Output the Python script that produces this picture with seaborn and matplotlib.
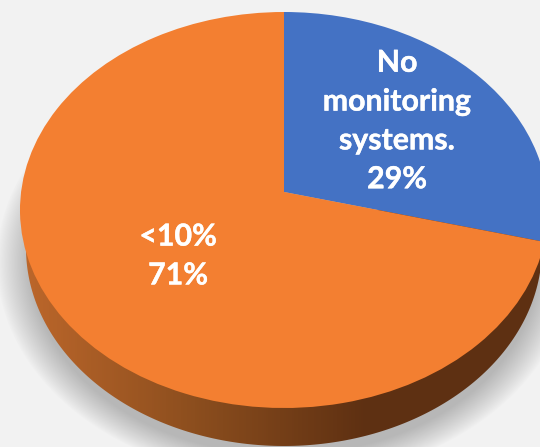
import matplotlib.patheffects as pe
import matplotlib.pyplot as plt
import numpy as np
import seaborn as sns
from matplotlib.colors import LinearSegmentedColormap
from matplotlib.patches import PathPatch
from matplotlib.path import Path
from matplotlib.transforms import Transform

shares = [29, 71]
labels = ["No\nmonitoring\nsystems.\n29%", "<10%\n71%"]
colors = ["#4472C4", "#F37F31"]

CX, CY, RX, RY = 284, 210, 264, 198
TILT = 0.091  # pie centre sits above the middle of the ellipse
DEPTH = 38
BOTTOM_RX = 258  # far rim looks a little narrower


class TiltedDisc(Transform):
    # projective view of the unit pie, so the centre moves but the rim stays an ellipse
    input_dims = 2
    output_dims = 2
    is_separable = False
    has_inverse = False

    def transform_non_affine(self, values):
        x, y = np.asarray(values, dtype=float).T
        w = 1 + TILT * y
        x2 = x * np.sqrt(1 - TILT**2) / w
        y2 = (y + TILT) / w
        return np.column_stack([CX + RX * x2, CY - RY * y2])


sns.set_theme(style="white", palette=sns.color_palette(colors))
fig = plt.figure(figsize=(5.4, 4.47), dpi=100, facecolor="#F2F2F2")
ax = fig.add_axes([0, 0, 1, 1])

# Soft shadow under the pie
xx, yy = np.meshgrid(np.arange(540), np.arange(447))
r = np.sqrt(((xx - 284) / 288) ** 2 + ((yy - 262) / 218) ** 2)
shadow = np.zeros((447, 540, 4))
shadow[..., :3] = 0.72
shadow[..., 3] = np.clip((1 - r) / 0.12, 0, 1) ** 0.9
ax.imshow(shadow, extent=(0, 540, 447, 0), zorder=1, aspect="auto")

# Side of the pie, light on the left and dark from the middle on
side_cmap = LinearSegmentedColormap.from_list(
    "side", ["#BD672B", "#8C4E1E", "#5E3012", "#5E3012"]
)
ramp = np.clip((np.arange(540) - 20) / 530, 0, 1)[None, :]
side_img = ax.imshow(ramp, cmap=side_cmap, extent=(0, 540, 447, 0), zorder=2, aspect="auto")
t = np.linspace(np.pi, 0, 200)
lower = np.column_stack([CX + BOTTOM_RX * np.cos(t), CY + DEPTH + RY * np.sin(t)])
rim = np.vstack([[CX - RX, CY], lower, [CX + RX, CY], [CX - RX, CY]])
side_patch = PathPatch(Path(rim, closed=True), transform=ax.transData, fc="none", lw=0)
ax.add_patch(side_patch)
side_img.set_clip_path(side_patch)

# Top face
wedges, _ = ax.pie(shares, colors=colors, startangle=90, counterclock=False, radius=1)
for wedge in wedges:
    wedge.set_transform(TiltedDisc() + ax.transData)
    wedge.set_linewidth(0)
    wedge.set_zorder(3)

label_font = dict(
    family="Lato", fontweight="bold", color="white", fontsize=21.8,
    ha="center", va="center", linespacing=1.47, zorder=4,
    path_effects=[pe.withStroke(linewidth=0.3, foreground="white")],
)
ax.text(397, 121, labels[0], **label_font)
ax.text(178, 256, labels[1], **label_font)

ax.set_aspect("auto")
ax.set_xlim(0, 540)
ax.set_ylim(447, 0)
ax.axis("off")

fig.savefig("out.png", dpi=100, facecolor=fig.get_facecolor())
